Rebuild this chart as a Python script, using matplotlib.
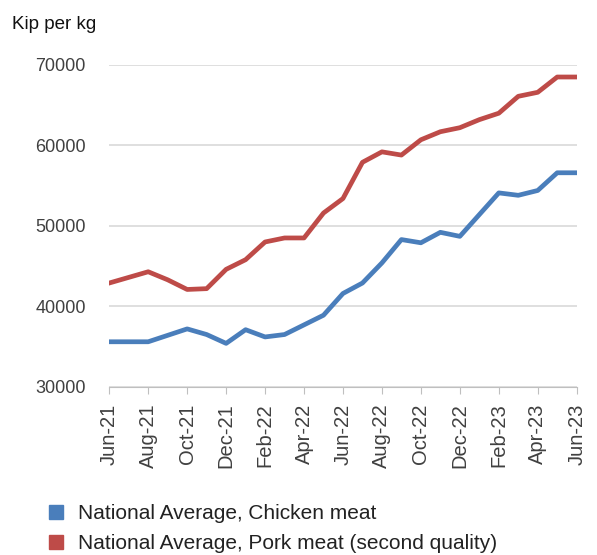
import matplotlib.pyplot as plt
from matplotlib.lines import Line2D

months = ["Jun-21", "Jul-21", "Aug-21", "Sep-21", "Oct-21", "Nov-21", "Dec-21",
          "Jan-22", "Feb-22", "Mar-22", "Apr-22", "May-22", "Jun-22", "Jul-22",
          "Aug-22", "Sep-22", "Oct-22", "Nov-22", "Dec-22", "Jan-23", "Feb-23",
          "Mar-23", "Apr-23", "May-23", "Jun-23"]

chicken = [35600, 35600, 35600, 36400, 37200, 36500, 35400, 37100, 36200, 36500,
           37700, 38900, 41600, 42900, 45400, 48300, 47900, 49200, 48700, 51400,
           54100, 53800, 54400, 56600, 56600]

pork = [42900, 43600, 44300, 43300, 42100, 42200, 44600, 45800, 48000, 48500,
        48500, 51600, 53400, 57900, 59200, 58800, 60700, 61700, 62200, 63200,
        64000, 66100, 66600, 68500, 68500]

yticks = [30000, 40000, 50000, 60000, 70000]

blue = "#4a7ebb"
red = "#be4b48"

plt.rcParams['font.family'] = ['Liberation Sans', 'DejaVu Sans']

fig = plt.figure(figsize=(5.97, 5.55), dpi=100)
ax = fig.add_axes([0.183, 0.303, 0.783, 0.58])

x = list(range(len(months)))
ax.plot(x, chicken, color=blue, lw=3.4, solid_joinstyle='round')
ax.plot(x, pork, color=red, lw=3.4, solid_joinstyle='round')

ax.set_xlim(0, len(months) - 1)
ax.set_ylim(30000, 70000)
ax.set_yticks(yticks)
ax.set_yticklabels([str(v) for v in yticks], fontsize=13, color="#404040")
ax.set_xticks(x[::2])
ax.set_xticklabels(months[::2], rotation=90, fontsize=14.5, color="#404040")

ax.grid(axis='y', color="#d9d9d9", lw=1.2)
ax.set_axisbelow(True)
for s in ["left", "right", "top"]:
    ax.spines[s].set_visible(False)
ax.spines["bottom"].set_color("#bfbfbf")
ax.tick_params(axis='y', length=0, pad=17)
ax.tick_params(axis='x', direction='out', length=5, color="#bfbfbf", pad=7)

fig.text(0.02, 0.955, "Kip per kg", fontsize=13.5, color="#111111", va='center')

handles = [Line2D([], [], marker='s', ls='', color=blue, markersize=10),
           Line2D([], [], marker='s', ls='', color=red, markersize=10)]
labels = ["National Average, Chicken meat",
          "National Average, Pork meat (second quality)"]
fig.legend(handles, labels, loc='lower left', bbox_to_anchor=(0.045, -0.03),
           frameon=False, fontsize=15, handletextpad=0.55, labelspacing=0.5,
           handlelength=1.0, labelcolor="#222222")

fig.savefig("out.png", dpi=100)
